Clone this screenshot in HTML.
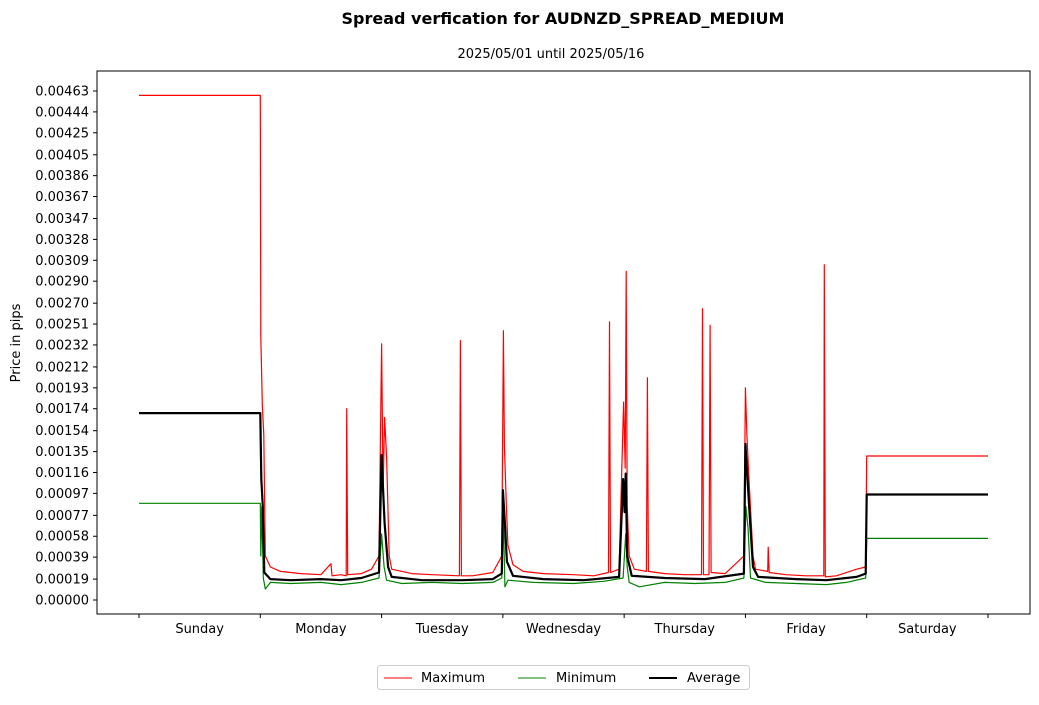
<!DOCTYPE html>
<html><head><meta charset="utf-8"><style>
body{margin:0;background:#fff;width:1039px;height:700px;overflow:hidden;font-family:"Liberation Sans",sans-serif}
svg text{font-family:"DejaVu Sans","Liberation Sans",sans-serif}
</style></head><body>
<svg id="chart" width="1039" height="700">
<text x="563" y="24" text-anchor="middle" font-size="16" font-weight="bold">Spread verfication for AUDNZD_SPREAD_MEDIUM</text>
<text x="551" y="58" text-anchor="middle" font-size="13">2025/05/01 until 2025/05/16</text>
<text transform="translate(20,343) rotate(-90)" text-anchor="middle" font-size="13">Price in pips</text>
<g id="yaxis"></g>
<g id="xaxis"></g>
<g id="series"></g>
<rect x="97" y="71" width="933" height="543" fill="none" stroke="#000" stroke-width="1"/>
<g>
<rect x="377.5" y="665.5" width="372" height="24" fill="#fff" stroke="#ccc" rx="3"/>
<line x1="384" y1="678" x2="412" y2="678" stroke="red" stroke-width="1"/>
<text x="421" y="682" font-size="13">Maximum</text>
<line x1="518" y1="678" x2="546" y2="678" stroke="green" stroke-width="1"/>
<text x="556" y="682" font-size="13">Minimum</text>
<line x1="649" y1="678" x2="677" y2="678" stroke="#000" stroke-width="2"/>
<text x="687" y="682" font-size="13">Average</text>
</g>
</svg>
<script>
const days=["Sunday","Monday","Tuesday","Wednesday","Thursday","Friday","Saturday"];
const yTicks=["0.00000","0.00019","0.00039","0.00058","0.00077","0.00097","0.00116","0.00135","0.00154","0.00174","0.00193","0.00212","0.00232","0.00251","0.00270","0.00290","0.00309","0.00328","0.00347","0.00367","0.00386","0.00405","0.00425","0.00444","0.00463"];
const maxHours=[0,24,24.1,24.4,24.7,25,26,28,32,36,38,38.2,40,41,41.1,41.3,44,46,47.5,48,48.3,48.6,49,49.5,50,54,58,63.4,63.6,63.8,66,70,71.8,72.1,72.3,72.7,73,74,76,80,86,90,92.9,93.1,93.3,95,95.9,96.2,96.4,96.6,97,98,100.4,100.6,100.8,104,108,111.3,111.5,111.7,112.8,113,113.2,116,119.7,120,120.3,120.7,121.5,122,124.4,124.5,124.7,128,132,135.5,135.6,135.8,138,142,143.8,144,168];
const maxValues=[0.00459,0.00459,0.00240,0.00178,0.00150,0.00040,0.00030,0.00026,0.00024,0.00023,0.00033,0.00022,0.00023,0.00022,0.00174,0.00023,0.00024,0.00028,0.00040,0.00233,0.00100,0.00166,0.00130,0.00040,0.00028,0.00024,0.00023,0.00022,0.00236,0.00022,0.00022,0.00025,0.00040,0.00245,0.00140,0.00085,0.00050,0.00032,0.00026,0.00024,0.00023,0.00022,0.00025,0.00253,0.00025,0.00028,0.00180,0.00120,0.00299,0.00085,0.00040,0.00028,0.00026,0.00202,0.00026,0.00024,0.00023,0.00023,0.00265,0.00023,0.00023,0.00250,0.00025,0.00024,0.00040,0.00193,0.00150,0.00110,0.00040,0.00028,0.00026,0.00048,0.00025,0.00023,0.00022,0.00022,0.00305,0.00021,0.00022,0.00028,0.00030,0.00131,0.00131];
const minHours=[0,24,24.1,24.3,24.6,25,26,30,36,40,44,47.5,48,48.5,49,52,58,64,70,71.8,72.1,72.4,73,78,86,92,95.8,96.3,96.6,97,99,104,110,116,119.7,120.1,120.5,121,124,130,136,140,143.8,144,168];
const minValues=[0.00088,0.00088,0.00040,0.00085,0.00020,0.00010,0.00016,0.00015,0.00016,0.00014,0.00016,0.00020,0.00060,0.00030,0.00018,0.00015,0.00016,0.00015,0.00016,0.00020,0.00075,0.00012,0.00018,0.00016,0.00015,0.00017,0.00020,0.00060,0.00030,0.00016,0.00012,0.00016,0.00015,0.00016,0.00020,0.00085,0.00066,0.00020,0.00016,0.00015,0.00014,0.00016,0.00020,0.00056,0.00056];
const avgHours=[0,24,24.2,24.5,24.8,26,30,36,40,44,47.5,48,48.3,48.6,49.3,50,56,64,70,71.8,72,72.4,72.8,74,80,88,95,95.8,96.1,96.3,96.6,97.5,104,112,119.7,120,120.4,120.8,121.5,122.5,130,136,142,143.8,144,168];
const avgValues=[0.00170,0.00170,0.00110,0.00085,0.00025,0.00019,0.00018,0.00019,0.00018,0.00020,0.00025,0.00132,0.00100,0.00070,0.00030,0.00021,0.00018,0.00018,0.00019,0.00024,0.00100,0.00070,0.00035,0.00022,0.00019,0.00018,0.00021,0.00110,0.00080,0.00115,0.00040,0.00022,0.00020,0.00019,0.00024,0.00142,0.00110,0.00080,0.00030,0.00021,0.00019,0.00018,0.00021,0.00024,0.00096,0.00096];

const NS="http://www.w3.org/2000/svg";
const X0=139, X1=988, Y0=600, Y1=91, VMAX=0.00463;
const xs=h=>X0+(X1-X0)*h/168;
const ys=v=>Y0-(Y0-Y1)*v/VMAX;
function mk(tag,attrs){const e=document.createElementNS(NS,tag);for(const k in attrs)e.setAttribute(k,attrs[k]);return e;}
const ya=document.getElementById('yaxis');
yTicks.forEach((t,i)=>{
  const y=ys(parseFloat(t));
  const l=mk('line',{x1:93,x2:97,y1:y,y2:y,stroke:'#000'});
  
  
  ya.appendChild(l);
  const tx=mk('text',{x:89,y:y+4.5,'text-anchor':'end','font-size':13});
  tx.textContent=t;
  
  
  ya.appendChild(tx);
});
const xa=document.getElementById('xaxis');
for(let i=0;i<=7;i++){
  const x=xs(i*24);
  const l=mk('line',{x1:x,x2:x,y1:614,y2:618,stroke:'#000'});
  
  
  xa.appendChild(l);
}
days.forEach((d,i)=>{
  const tx=mk('text',{x:xs(i*24+12),y:633,'text-anchor':'middle','font-size':13});
  tx.textContent=d;
  
  
  xa.appendChild(tx);
});
const sg=document.getElementById('series');
function line(hs,vs,color,w,name){
  const p=mk('polyline',{points:hs.map((h,i)=>xs(h).toFixed(1)+','+ys(vs[i]).toFixed(1)).join(' '),fill:'none',stroke:color,'stroke-width':w,'stroke-linejoin':'round'});
  
  
  sg.appendChild(p);
}
line(maxHours,maxValues,'red',1.2,'maximum-line');
line(minHours,minValues,'green',1.2,'minimum-line');
line(avgHours,avgValues,'#000',2.2,'average-line');
</script>
</body></html>
